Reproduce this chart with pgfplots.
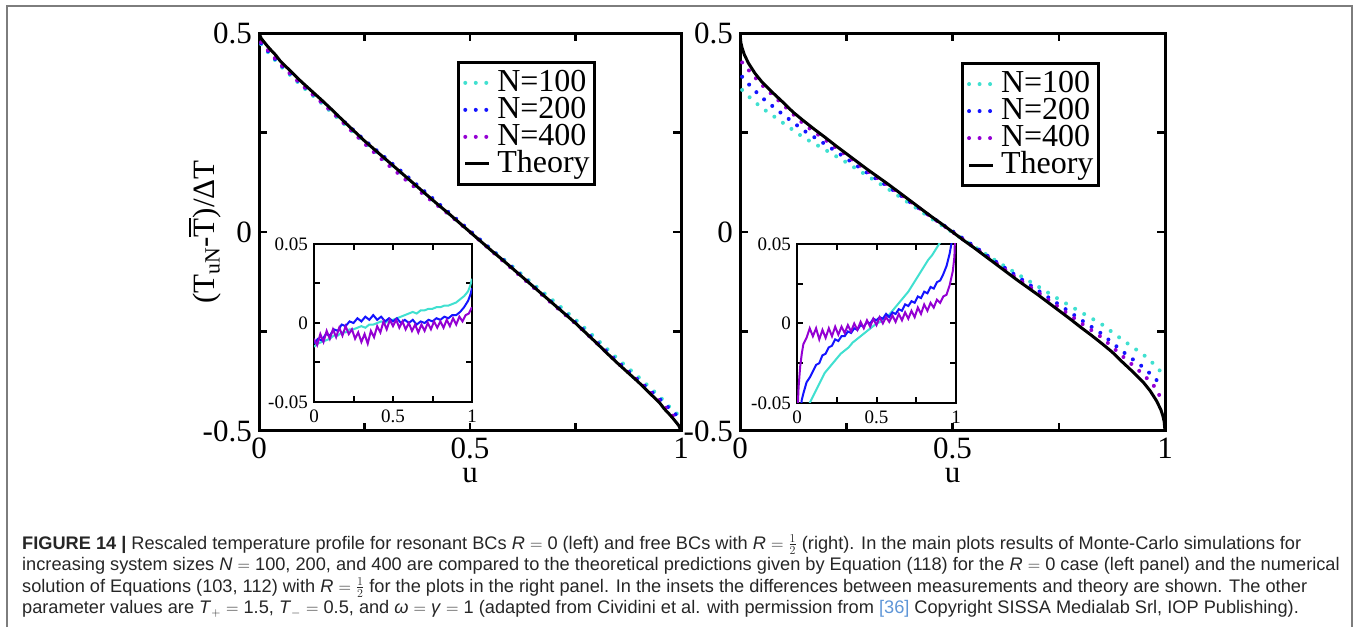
\documentclass[border=0pt]{standalone}
\usepackage{pgfplots}
\pgfplotsset{compat=1.18}
\usepackage{fontspec}
\setmainfont{Liberation Serif}
\newfontfamily\capfont{Liberation Sans}

\definecolor{cturq}{RGB}{64,224,208}
\definecolor{cblue}{RGB}{20,20,255}
\definecolor{cviolet}{RGB}{148,0,211}
\definecolor{framegray}{RGB}{125,125,125}
\definecolor{linkblue}{RGB}{95,150,215}

\newcommand{\mainfs}{\fontsize{31}{31}\selectfont}
\newcommand{\insetfs}{\fontsize{19}{19}\selectfont}
\newcommand{\Tbar}{\leavevmode\rlap{\raisebox{0.74em}{\rule{0.6em}{1.8pt}}}T}

\pgfplotsset{
  mainpanel/.style={
    anchor=south west, scale only axis,
    width=422pt, height=398pt,
    xmin=0, xmax=1, ymin=-0.5, ymax=0.5,
    scaled ticks=false,
    axis line style={line width=3pt},
    tick style={line width=2.5pt, black},
    tick align=inside, major tick length=8pt, minor tick length=8pt,
    xtick={0,0.5,1}, xticklabels={0,0.5,1}, minor xtick={0.25,0.75},
    ytick={-0.5,0,0.5}, yticklabels={-0.5,0,0.5}, minor ytick={-0.25,0.25},
    tick label style={font=\mainfs, inner sep=0pt},
    xticklabel style={yshift=-7pt},
    yticklabel style={xshift=-7pt},
    xlabel={u},
    xlabel style={at={(axis description cs:0.5,-0.13)}, anchor=base, font=\mainfs},
    legend cell align=left,
    legend image code/.code={\draw[##1] (0pt,0pt) -- (24pt,0pt);},
  },
  inset/.style={
    anchor=south west, scale only axis,
    width=158pt, height=158pt,
    xmin=0, xmax=1, ymin=-0.05, ymax=0.05,
    scaled ticks=false,
    axis background/.style={fill=white},
    axis line style={line width=2.4pt},
    tick style={line width=2pt, black},
    tick align=inside, major tick length=6pt, minor tick length=6pt,
    xtick={0,0.5,1}, xticklabels={0,0.5,1}, minor xtick={0.25,0.75},
    ytick={-0.05,0,0.05}, yticklabels={-0.05,0,0.05}, minor ytick={-0.025,0.025},
    tick label style={font=\insetfs, inner sep=0pt},
    xticklabel style={yshift=-8pt},
    yticklabel style={xshift=-6pt},
  },
  dots/.style={line width=4pt, line cap=round, dash pattern=on 0pt off 10.5pt},
  noise/.style={line width=2pt},
  panellegend/.style={legend style={at={#1}, anchor=north east, draw=black,
    line width=3pt, font=\fontsize{32}{32}\selectfont, inner xsep=5pt, inner ysep=7pt,
    row sep=0pt, column sep=6pt,
    nodes={inner sep=0pt, text height=22pt, text depth=5pt}}},
}

\begin{document}
\begin{tikzpicture}[x=1pt,y=1pt]
\path[use as bounding box] (0,0) rectangle (1360,627);
\draw[framegray, line width=1.6pt] (7,0) -- (7,621) -- (1352,621) -- (1352,0);

% ---------- left panel ----------
\begin{axis}[mainpanel, at={(259pt,196pt)},
  ylabel={(T\textsubscript{uN}-\Tbar)/ΔT},
  ylabel style={at={(axis description cs:-0.128,0.5)}, anchor=center, font=\mainfs},
  panellegend={(rel axis cs:0.799,0.93)},
]
\addplot[dots, cturq] coordinates {(0.005,0.472)(0.025,0.447)(0.05,0.418)(0.1,0.368)(0.15,0.322)(0.2,0.273)(0.25,0.225)(0.3,0.180)(0.35,0.135)(0.4,0.090)(0.45,0.046)(0.5,0.002)(0.55,-0.043)(0.6,-0.086)(0.65,-0.131)(0.7,-0.175)(0.75,-0.220)(0.8,-0.269)(0.85,-0.319)(0.9,-0.365)(0.95,-0.414)(0.975,-0.442)(0.995,-0.461)};
\addlegendentry{N=100}
\addplot[dots, cblue] coordinates {(0.005,0.474)(0.025,0.450)(0.05,0.421)(0.1,0.372)(0.15,0.327)(0.2,0.279)(0.25,0.231)(0.3,0.186)(0.35,0.141)(0.4,0.095)(0.45,0.049)(0.5,0.003)(0.55,-0.044)(0.6,-0.089)(0.65,-0.136)(0.7,-0.182)(0.75,-0.227)(0.8,-0.276)(0.85,-0.326)(0.9,-0.373)(0.95,-0.420)(0.975,-0.446)(0.995,-0.466)};
\addlegendentry{N=200}
\addplot[dots, cviolet] coordinates {(0.005,0.477)(0.025,0.452)(0.05,0.422)(0.1,0.371)(0.15,0.324)(0.2,0.274)(0.25,0.222)(0.3,0.174)(0.35,0.129)(0.4,0.086)(0.45,0.044)(0.5,0)(0.55,-0.047)(0.6,-0.093)(0.65,-0.139)(0.7,-0.185)(0.75,-0.230)(0.8,-0.279)(0.85,-0.329)(0.9,-0.376)(0.95,-0.426)(0.975,-0.455)(0.995,-0.477)};
\addlegendentry{N=400}
\addplot[black, line width=3pt] coordinates {(0,0.500)(0.005,0.487)(0.01,0.480)(0.02,0.467)(0.03,0.455)(0.04,0.444)(0.05,0.430)(0.075,0.404)(0.1,0.378)(0.125,0.354)(0.15,0.330)(0.175,0.305)(0.2,0.279)(0.225,0.254)(0.25,0.229)(0.275,0.206)(0.3,0.183)(0.325,0.160)(0.35,0.137)(0.375,0.114)(0.4,0.091)(0.425,0.068)(0.45,0.046)(0.475,0.023)(0.5,0)(0.525,-0.023)(0.55,-0.046)(0.575,-0.068)(0.6,-0.091)(0.625,-0.114)(0.65,-0.137)(0.675,-0.160)(0.7,-0.183)(0.725,-0.206)(0.75,-0.229)(0.775,-0.254)(0.8,-0.279)(0.825,-0.305)(0.85,-0.330)(0.875,-0.354)(0.9,-0.378)(0.925,-0.404)(0.95,-0.430)(0.96,-0.444)(0.97,-0.455)(0.98,-0.467)(0.99,-0.480)(0.995,-0.487)(1,-0.500)};
\addlegendentry{Theory}
\end{axis}

% ---------- right panel ----------
\begin{axis}[mainpanel, at={(740pt,196pt)}, width=425pt,
  panellegend={(rel axis cs:0.847,0.927)},
]
\addplot[dots, cturq] coordinates {(0.005,0.357)(0.025,0.336)(0.05,0.313)(0.1,0.275)(0.15,0.237)(0.2,0.207)(0.25,0.175)(0.3,0.141)(0.35,0.107)(0.4,0.071)(0.45,0.034)(0.5,-0.001)(0.55,-0.036)(0.6,-0.071)(0.65,-0.104)(0.7,-0.136)(0.75,-0.169)(0.8,-0.200)(0.85,-0.231)(0.9,-0.271)(0.95,-0.309)(0.975,-0.333)(0.995,-0.357)};
\addlegendentry{N=100}
\addplot[dots, cblue] coordinates {(0.005,0.390)(0.025,0.366)(0.05,0.339)(0.1,0.296)(0.15,0.255)(0.2,0.221)(0.25,0.185)(0.3,0.148)(0.35,0.113)(0.4,0.075)(0.45,0.038)(0.5,0.002)(0.55,-0.035)(0.6,-0.073)(0.65,-0.110)(0.7,-0.146)(0.75,-0.182)(0.8,-0.219)(0.85,-0.255)(0.9,-0.300)(0.95,-0.341)(0.975,-0.366)(0.995,-0.390)};
\addlegendentry{N=200}
\addplot[dots, cviolet] coordinates {(0.005,0.426)(0.025,0.401)(0.05,0.371)(0.1,0.321)(0.15,0.271)(0.2,0.232)(0.25,0.193)(0.3,0.153)(0.35,0.116)(0.4,0.077)(0.45,0.038)(0.5,0)(0.55,-0.038)(0.6,-0.076)(0.65,-0.115)(0.7,-0.151)(0.75,-0.189)(0.8,-0.227)(0.85,-0.264)(0.9,-0.312)(0.95,-0.359)(0.975,-0.388)(0.995,-0.426)};
\addlegendentry{N=400}
\addplot[black, line width=3pt] coordinates {(0,0.500)(0.002,0.476)(0.005,0.462)(0.01,0.446)(0.02,0.424)(0.035,0.399)(0.05,0.379)(0.075,0.352)(0.1,0.327)(0.125,0.301)(0.15,0.279)(0.175,0.258)(0.2,0.238)(0.225,0.217)(0.25,0.197)(0.275,0.177)(0.3,0.157)(0.325,0.138)(0.35,0.119)(0.375,0.099)(0.4,0.079)(0.425,0.059)(0.45,0.039)(0.475,0.020)(0.5,0)(0.525,-0.020)(0.55,-0.039)(0.575,-0.059)(0.6,-0.079)(0.625,-0.099)(0.65,-0.119)(0.675,-0.138)(0.7,-0.157)(0.725,-0.177)(0.75,-0.197)(0.775,-0.217)(0.8,-0.238)(0.825,-0.258)(0.85,-0.279)(0.875,-0.301)(0.9,-0.327)(0.925,-0.352)(0.95,-0.379)(0.965,-0.399)(0.98,-0.424)(0.99,-0.446)(0.995,-0.462)(0.998,-0.476)(1,-0.500)};
\addlegendentry{Theory}
\end{axis}

% ---------- left inset ----------
\begin{axis}[inset, at={(314pt,225pt)}]
\addplot[noise, cturq] coordinates {(0,-0.015)(0.025,-0.013)(0.05,-0.012)(0.075,-0.011)(0.1,-0.010)(0.125,-0.008)(0.15,-0.008)(0.175,-0.006)(0.2,-0.006)(0.225,-0.004)(0.25,-0.004)(0.275,-0.003)(0.3,-0.002)(0.325,-0.003)(0.35,-0.001)(0.375,-0.001)(0.4,0.000)(0.425,0.001)(0.45,0.000)(0.475,0.002)(0.5,0.002)(0.525,0.003)(0.55,0.004)(0.575,0.005)(0.6,0.006)(0.625,0.007)(0.65,0.006)(0.675,0.008)(0.7,0.008)(0.725,0.009)(0.75,0.009)(0.775,0.010)(0.8,0.010)(0.825,0.011)(0.85,0.011)(0.875,0.012)(0.9,0.013)(0.925,0.015)(0.95,0.017)(0.975,0.020)(0.99,0.024)(1,0.028)};
\addplot[noise, cblue] coordinates {(0,-0.013)(0.025,-0.010)(0.05,-0.011)(0.075,-0.007)(0.1,-0.008)(0.125,-0.004)(0.15,-0.005)(0.175,-0.001)(0.2,-0.002)(0.225,0.001)(0.25,0.000)(0.275,0.003)(0.3,0.001)(0.325,0.004)(0.35,0.002)(0.375,0.005)(0.4,0.002)(0.425,0.004)(0.45,0.001)(0.475,0.003)(0.5,0.001)(0.525,0.003)(0.55,0.000)(0.575,0.002)(0.6,0.000)(0.625,0.002)(0.65,-0.001)(0.675,0.001)(0.7,0.000)(0.725,0.002)(0.75,0.001)(0.775,0.003)(0.8,0.002)(0.825,0.004)(0.85,0.003)(0.875,0.005)(0.9,0.005)(0.925,0.007)(0.95,0.010)(0.975,0.014)(0.99,0.018)(1,0.022)};
\addplot[noise, cviolet] coordinates {(0,-0.010)(0.02,-0.014)(0.04,-0.007)(0.06,-0.012)(0.08,-0.005)(0.1,-0.010)(0.12,-0.004)(0.14,-0.009)(0.16,-0.003)(0.18,-0.008)(0.2,-0.002)(0.22,-0.007)(0.24,-0.004)(0.26,-0.010)(0.28,-0.006)(0.3,-0.012)(0.32,-0.007)(0.34,-0.013)(0.36,-0.005)(0.38,-0.009)(0.4,-0.002)(0.42,-0.006)(0.44,0.001)(0.46,-0.004)(0.48,0.002)(0.5,-0.002)(0.52,0.002)(0.54,-0.003)(0.56,0.001)(0.58,-0.004)(0.6,0.000)(0.62,-0.005)(0.64,-0.001)(0.66,-0.006)(0.68,-0.001)(0.7,-0.005)(0.72,0.000)(0.74,-0.004)(0.76,0.001)(0.78,-0.003)(0.8,0.001)(0.82,-0.003)(0.84,0.002)(0.86,-0.002)(0.88,0.003)(0.9,-0.001)(0.92,0.004)(0.94,0.001)(0.96,0.005)(0.98,0.006)(1,0.010)};
\end{axis}

% ---------- right inset ----------
\begin{axis}[inset, at={(797pt,224pt)}, width=159pt, height=159pt]
\addplot[noise, cturq] coordinates {(0,-0.143)(0.01,-0.100)(0.02,-0.085)(0.04,-0.070)(0.06,-0.062)(0.08,-0.050)(0.1,-0.046)(0.125,-0.041)(0.15,-0.036)(0.175,-0.031)(0.2,-0.028)(0.225,-0.025)(0.25,-0.022)(0.275,-0.019)(0.3,-0.017)(0.325,-0.015)(0.35,-0.012)(0.375,-0.010)(0.4,-0.008)(0.425,-0.006)(0.45,-0.004)(0.475,-0.002)(0.5,0.000)(0.525,0.001)(0.55,0.003)(0.575,0.005)(0.6,0.008)(0.625,0.011)(0.65,0.014)(0.675,0.017)(0.7,0.020)(0.725,0.024)(0.75,0.028)(0.775,0.032)(0.8,0.036)(0.825,0.040)(0.85,0.043)(0.875,0.047)(0.9,0.051)(0.925,0.056)(0.95,0.064)(1,0.140)};
\addplot[noise, cblue] coordinates {(0,-0.110)(0.01,-0.075)(0.02,-0.058)(0.03,-0.048)(0.04,-0.044)(0.06,-0.037)(0.08,-0.034)(0.1,-0.030)(0.12,-0.026)(0.14,-0.025)(0.16,-0.020)(0.18,-0.019)(0.2,-0.015)(0.22,-0.014)(0.24,-0.010)(0.26,-0.011)(0.28,-0.008)(0.3,-0.008)(0.32,-0.005)(0.34,-0.006)(0.36,-0.003)(0.38,-0.004)(0.4,-0.001)(0.42,-0.002)(0.44,0.001)(0.46,0.000)(0.48,0.003)(0.5,0.002)(0.52,0.004)(0.54,0.003)(0.56,0.006)(0.58,0.004)(0.6,0.007)(0.62,0.006)(0.64,0.009)(0.66,0.008)(0.68,0.012)(0.7,0.011)(0.72,0.014)(0.74,0.013)(0.76,0.017)(0.78,0.016)(0.8,0.020)(0.82,0.019)(0.84,0.023)(0.86,0.022)(0.88,0.026)(0.9,0.027)(0.92,0.031)(0.94,0.036)(0.96,0.044)(0.98,0.055)(1,0.100)};
\addplot[noise, cviolet] coordinates {(0,-0.075)(0.005,-0.052)(0.01,-0.040)(0.02,-0.027)(0.03,-0.019)(0.04,-0.013)(0.06,-0.009)(0.08,-0.003)(0.1,-0.008)(0.12,-0.003)(0.14,-0.010)(0.16,-0.004)(0.18,-0.009)(0.2,-0.003)(0.22,-0.008)(0.24,-0.002)(0.26,-0.007)(0.28,-0.002)(0.3,-0.006)(0.32,-0.001)(0.34,-0.005)(0.36,0.000)(0.38,-0.004)(0.4,0.001)(0.42,-0.003)(0.44,0.002)(0.46,-0.002)(0.48,0.003)(0.5,-0.001)(0.52,0.004)(0.54,0.000)(0.56,0.004)(0.58,0.001)(0.6,0.005)(0.62,0.001)(0.64,0.006)(0.66,0.002)(0.68,0.007)(0.7,0.003)(0.72,0.008)(0.74,0.004)(0.76,0.010)(0.78,0.006)(0.8,0.012)(0.82,0.008)(0.84,0.013)(0.86,0.010)(0.88,0.015)(0.9,0.013)(0.92,0.017)(0.94,0.018)(0.96,0.024)(0.98,0.033)(0.99,0.042)(1,0.075)};
\end{axis}

% ---------- caption ----------
\begin{scope}[every node/.style={anchor=base west, inner sep=0pt,
    font=\capfont\fontsize{18.2}{20}\selectfont, text=black!85}]
\node at (22,78) {\textbf{FIGURE 14 |} Rescaled temperature profile for resonant BCs \textit{R} $=$ 0 (left) and free BCs with \textit{R} $=$ $\frac{1}{2}$ (right). In the main plots results of Monte-Carlo simulations for};
\node at (22,56.5) {increasing system sizes \textit{N} $=$ 100, 200, and 400 are compared to the theoretical predictions given by Equation (118) for the \textit{R} $=$ 0 case (left panel) and the numerical};
\node at (22,35) {solution of Equations (103, 112) with \textit{R} $=$ $\frac{1}{2}$ for the plots in the right panel. In the insets the differences between measurements and theory are shown. The other};
\node at (22,13.5) {parameter values are \textit{T}$_{+}$ $=$ 1.5, \textit{T}$_{-}$ $=$ 0.5, and \textit{ω} $=$ \textit{γ} $=$ 1 (adapted from Cividini et al. with permission from {\color{linkblue}[36]} Copyright SISSA Medialab Srl, IOP Publishing).};
\end{scope}
\end{tikzpicture}
\end{document}
